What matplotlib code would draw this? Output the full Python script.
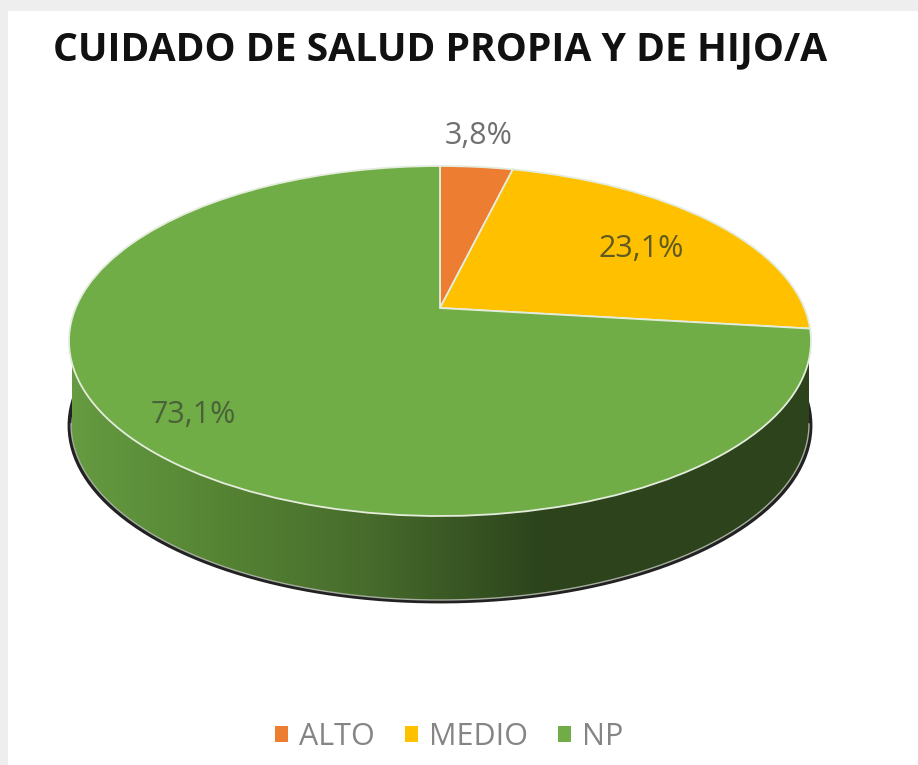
import numpy as np
import matplotlib
matplotlib.use('Agg')
import matplotlib.pyplot as plt
from matplotlib.colors import LinearSegmentedColormap
from matplotlib.patches import Patch, PathPatch, Rectangle
from matplotlib.path import Path
from matplotlib.transforms import Transform

title = 'CUIDADO DE SALUD PROPIA Y DE HIJO/A'
categories = ['ALTO', 'MEDIO', 'NP']
values = [3.8, 23.1, 73.1]
colors = ['#ED7D31', '#FFC000', '#70AD47']

# ellipse of the pie top, in pixels
cx, cy, rx, ry = 440, 341, 371, 175
tilt = 33 / 175


class PieTop(Transform):
    # unit circle -> tilted ellipse, centre of the pie sits above the ellipse centre
    input_dims = 2
    output_dims = 2

    def transform_non_affine(self, xy):
        xy = np.asarray(xy, dtype=float)
        d = 1 + tilt * xy[:, 1]
        x = cx + rx * np.sqrt(1 - tilt ** 2) * xy[:, 0] / d
        y = cy - ry * (xy[:, 1] + tilt) / d
        return np.column_stack([x, y])


fig = plt.figure(figsize=(9.18, 7.65), dpi=100, facecolor='#EEEEEE')
ax = fig.add_axes([0, 0, 1, 1])

wedges, _ = ax.pie(values, colors=colors, startangle=90, counterclock=False,
                   wedgeprops={'edgecolor': '#E4ECDC', 'linewidth': 1.3})
for w in wedges:
    w.set_transform(PieTop() + ax.transData)
    w.set_zorder(5)
    w.set_clip_on(False)

ax.add_patch(Rectangle((8, 11), 910, 754, facecolor='white', edgecolor='none', zorder=0))

# side of the pie
low_y, low_ry, low_rx = 424, 176, 369
t = np.linspace(np.pi, 0, 200)
arc_x = cx + low_rx * np.cos(t)
arc_y = low_y + low_ry * np.sin(t)
wall = np.column_stack([np.r_[cx - rx + 2, arc_x, cx + rx - 2], np.r_[cy, arc_y, cy]])
wall_patch = PathPatch(Path(wall), facecolor='none', edgecolor='none', zorder=2)
ax.add_patch(wall_patch)
cmap = LinearSegmentedColormap.from_list('side', [(0, '#659B41'), (0.3, '#568534'),
                                                  (0.62, '#476C2C'), (1, '#2C431C')])
grad = np.linspace(0, 1, 256).reshape(1, -1)
img = ax.imshow(grad, cmap=cmap, extent=(72, 545, 620, 320), aspect='auto', zorder=2)
img.set_clip_path(wall_patch)
ax.add_patch(Rectangle((545, 320), 280, 300, facecolor='#2C431C', edgecolor='none',
                       zorder=2, clip_path=wall_patch))

# dark rim under the side
t2 = np.linspace(np.pi + 0.15, -0.15, 200)
ax.plot(cx + (low_rx + 1.5) * np.cos(t2), low_y + 1.5 + low_ry * np.sin(t2), color='#222222',
        lw=2.8, zorder=1, solid_capstyle='round')
ax.plot(arc_x, arc_y, color='#A5AD9E', lw=1, zorder=3)

ax.set_xlim(0, 918)
ax.set_ylim(765, 0)
ax.set_aspect('auto')
ax.axis('off')
ax.patch.set_visible(False)

ax.text(53, 50, title, fontsize=28.15, fontweight='bold', family='Open Sans', color='#111111',
        ha='left', va='center', zorder=8)

label_pos = [(479, 136), (641, 249), (193, 415)]
label_col = ['#707070', '#5F5A22', '#4A6238']
for v, p, c in zip(values, label_pos, label_col):
    ax.text(p[0], p[1], f'{v:.1f}%'.replace('.', ','), fontsize=22, family='Open Sans',
            color=c, ha='center', va='center', zorder=8)

handles = [Patch(facecolor=c, edgecolor='none') for c in colors]
leg = ax.legend(handles, categories, ncol=3, loc='center', bbox_to_anchor=(449, 737),
                bbox_transform=ax.transData, frameon=False, labelcolor='#858585',
                handlelength=0.43, handleheight=0.43, handletextpad=0.36, columnspacing=0.98,
                prop={'family': 'Open Sans', 'size': 22})

fig.savefig('out.png', dpi=100, facecolor=fig.get_facecolor())
